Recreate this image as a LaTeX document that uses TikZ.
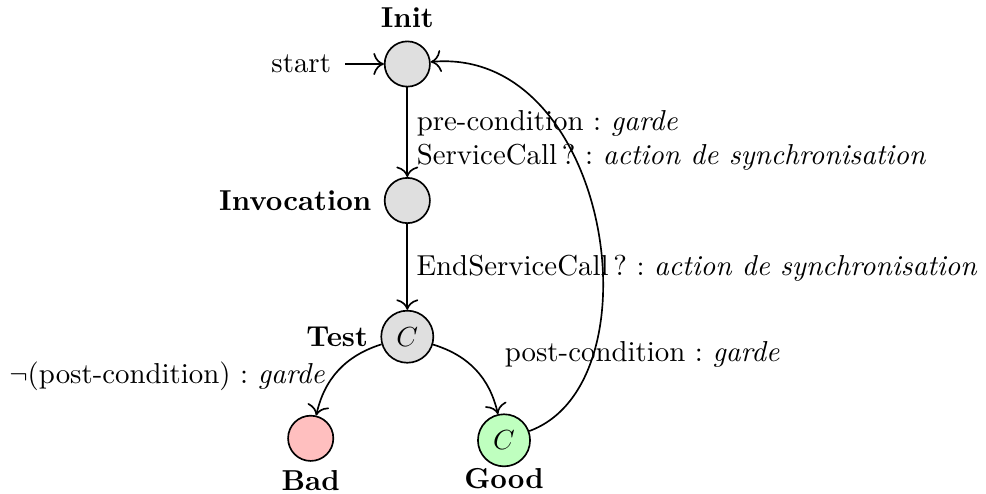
\documentclass[tikz,border=0pt]{standalone}
\usetikzlibrary{automata,arrows.meta}
\begin{document}
\frenchspacing
\begin{tikzpicture}[x=0.36232pt,y=0.36232pt,>={To[scale=1.3]},semithick,
  font=\fontsize{10.45pt}{12.6pt}\selectfont,
  st/.style={circle,draw,fill=gray!25,minimum size=16.4pt,inner sep=3pt},
  lblup/.style={label distance=0.9pt},
  edgetext/.style={inner sep=0pt}
]
\useasboundingbox (0,0) rectangle (986,493);
\node[st,label={[lblup]above:\textbf{Init}}] (Init) at (407.3,429) {};
\node[st,label={[lblup]left:\textbf{Invocation}}] (Inv) at (407.3,292.5) {};
\node[st,label={[lblup]left:\textbf{Test}}] (Test) at (407.3,156.3) {$C$};
\node[st,fill=red!25,label={[label distance=-0.5pt]below:\textbf{Bad}}] (Bad) at (310.7,54.7) {};
\node[st,fill=green!25,label={[label distance=-0.4pt,inner sep=0.4pt]below:\textbf{Good}}] (Good) at (504,52.7) {$C$};
\node[anchor=east] (start) at (341,429) {start};
\draw[->,shorten <=1.5pt] (start) -- (Init);
\draw[->] (Init) -- (Inv);
\draw[->] (Inv) -- (Test);
\draw[->] (Test) to[bend right] (Bad);
\draw[->] (Test) to[bend left] (Good);
\draw[->] (Good) .. controls (660.6,110) and (610,447) .. (Init);
\node[edgetext,anchor=north west,align=left] (l1) at (416,383.7) {pre-condition : \textit{garde}\\ServiceCall\,? : \textit{action de synchronisation}};
\node[edgetext,anchor=base west] (l2) at (415.7,218) {EndServiceCall\,? : \textit{action de synchronisation}};
\node[edgetext,anchor=base west] (l3) at (504,131.3) {post-condition : \textit{garde}};
\node[edgetext,anchor=base west] (l4) at (8.5,109.7) {$\neg$(post-condition) : \textit{garde}};
\end{tikzpicture}
\end{document}
